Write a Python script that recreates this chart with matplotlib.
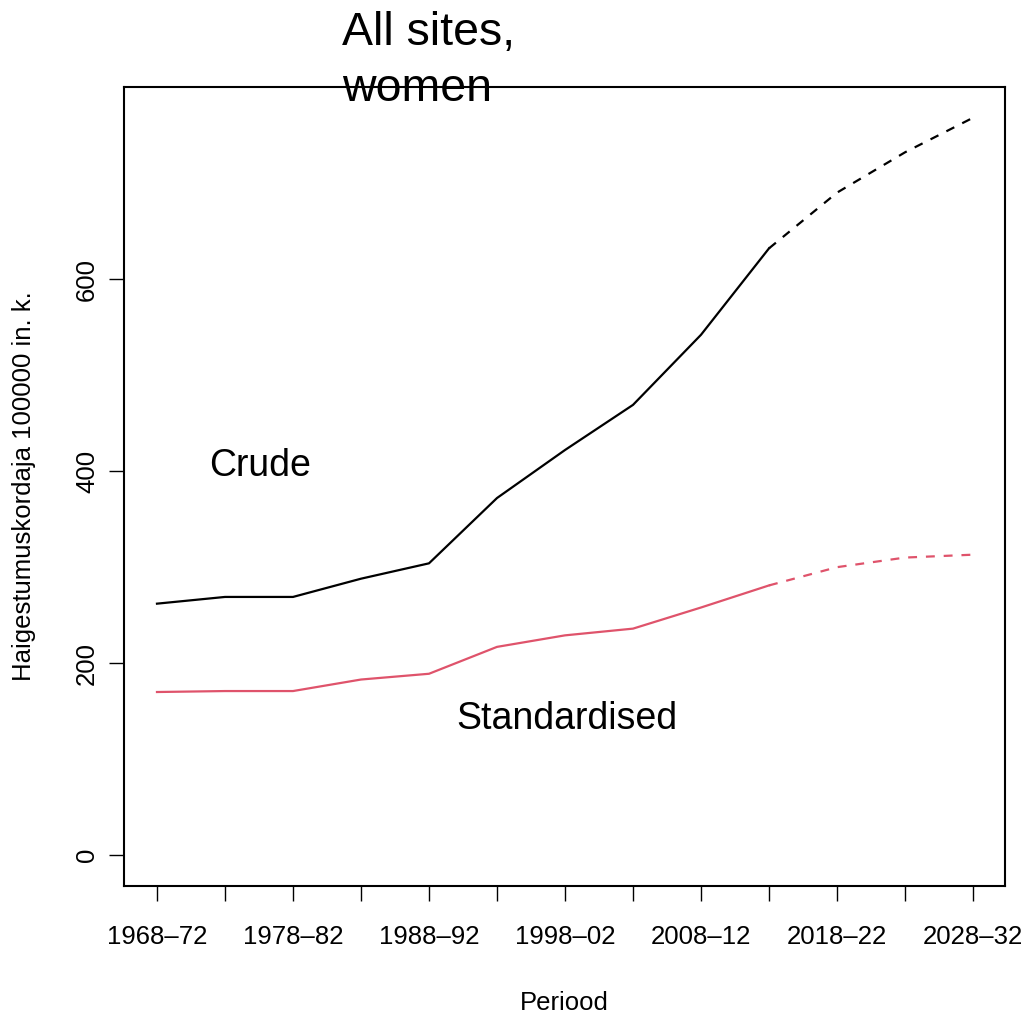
#!/usr/bin/env python

import numpy as np
import matplotlib.pyplot as plt

plt.rcParams['font.family'] = ['Liberation Sans', 'DejaVu Sans']

PERIODS = ['1968–72', '1973–77', '1978–82', '1983–87', '1988–92', '1993–97',
           '1998–02', '2003–07', '2008–12', '2013–17', '2018–22', '2023–27',
           '2028–32']

# rates per 100000; last 3 periods are projections
CRUDE = [262, 269, 269, 288, 304, 372, 422, 469, 542, 632, 690, 732, 768]
STANDARDISED = [170, 171, 171, 183, 189, 217, 229, 236, 258, 281, 300, 310, 313]
LAST_OBSERVED = 9

RED = '#DF536B'

fig = plt.figure(figsize=(10.24, 10.18), dpi=100)
ax = fig.add_axes((124 / 1024, 1 - 886 / 1018, 881 / 1024, 799 / 1018))

x = np.arange(1, len(PERIODS) + 1)
for vals, col in [(CRUDE, 'black'), (STANDARDISED, RED)]:
    v = np.array(vals)
    ax.plot(x[:LAST_OBSERVED + 1], v[:LAST_OBSERVED + 1], color=col, lw=1.6)
    ax.plot(x[LAST_OBSERVED:], v[LAST_OBSERVED:], color=col, lw=1.6,
            dashes=(4, 4))

ax.set_xlim(0.515, 13.47)
ax.set_ylim(-32, 800)

ax.set_xticks(x)
ax.set_xticklabels([p if i % 2 == 0 else '' for i, p in enumerate(PERIODS)])
ax.set_yticks([0, 200, 400, 600])
ax.set_yticklabels(['0', '200', '400', '600'], rotation=90, va='center')

ax.tick_params(axis='x', length=11, width=1, labelsize=18.5, pad=17)
ax.tick_params(axis='y', length=11, width=1, labelsize=18.5, pad=7)
for s in ax.spines.values():
    s.set_linewidth(1.5)

ax.set_xlabel('Periood', fontsize=18.5, labelpad=30)
ax.set_ylabel('Haigestumuskordaja 100000 in. k.', fontsize=18.5, labelpad=28)

ax.text(2.51, 405, 'Crude', fontsize=27, ha='center', va='center')
ax.text(7.03, 142, 'Standardised', fontsize=27, ha='center', va='center')

fig.text(342 / 1024, 1 - 45 / 1018, 'All sites,', fontsize=33.5,
         ha='left', va='baseline')
fig.text(342 / 1024, 1 - 101 / 1018, 'women', fontsize=33.5,
         ha='left', va='baseline')

plt.savefig('out.png', dpi=100)
